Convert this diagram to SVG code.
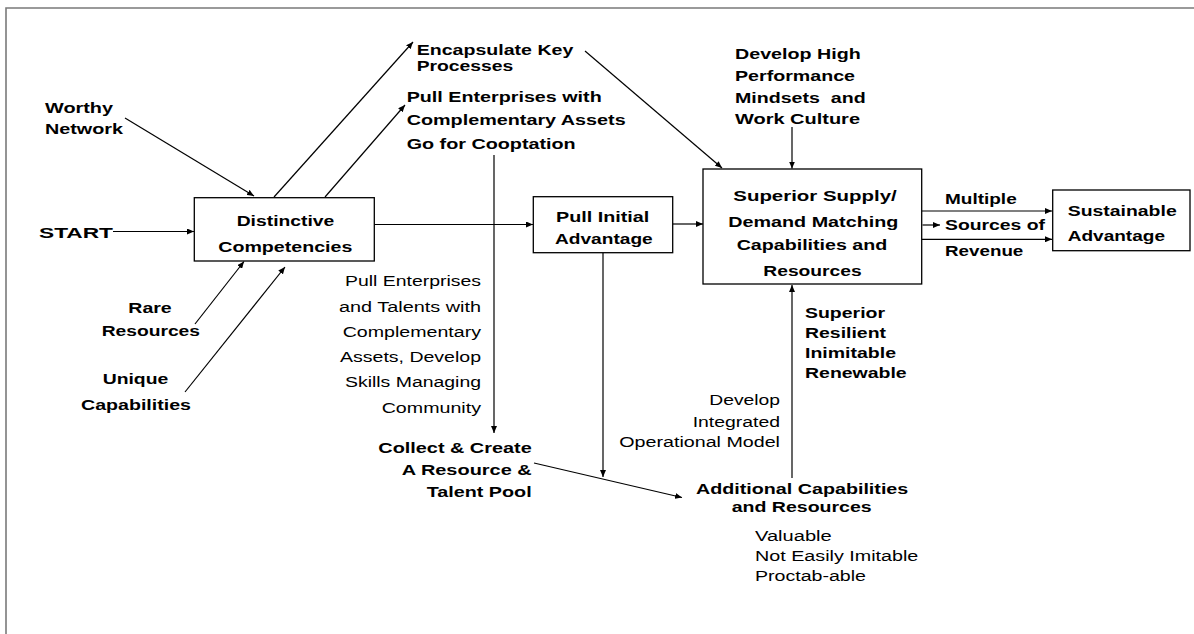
<svg xmlns="http://www.w3.org/2000/svg" width="1194" height="634" viewBox="0 0 1194 634">
<style>
.b{font-family:"Liberation Sans",Arial,sans-serif;font-weight:bold;font-size:15.2px;fill:#000}
.r{font-family:"Liberation Sans",Arial,sans-serif;font-size:14px;fill:#000}
.box{fill:#fff;stroke:#000;stroke-width:1.3}
.c{stroke:#000;stroke-width:1.2;fill:none;marker-end:url(#ah)}
.frame{stroke:#7a7a7a;stroke-width:1.6;fill:none}
</style>
<defs>
<marker id="ah" markerUnits="userSpaceOnUse" markerWidth="8" markerHeight="6" refX="7" refY="3" orient="auto">
<path d="M0,0 L7,3 L0,6 z" fill="#000"/>
</marker>
</defs>
<rect width="1194" height="634" fill="#fff"/>
<path class="frame" d="M6,634 V8 H1194"/>

<g id="connectors">
<line class="c" x1="125" y1="118" x2="254" y2="196"/>
<line class="c" x1="274" y1="197" x2="413" y2="42"/>
<line class="c" x1="325" y1="197" x2="405" y2="105"/>
<line class="c" x1="113" y1="231.5" x2="194" y2="231.5"/>
<line class="c" x1="195" y1="324" x2="244" y2="261.5"/>
<line class="c" x1="185" y1="392" x2="285" y2="267"/>
<line class="c" x1="374" y1="224.5" x2="533" y2="224.5"/>
<line class="c" x1="673" y1="224" x2="703" y2="224"/>
<line class="c" x1="585" y1="51" x2="722" y2="168"/>
<line class="c" x1="792" y1="127" x2="792" y2="168.5"/>
<line class="c" x1="494" y1="155" x2="494" y2="433"/>
<line class="c" x1="603" y1="253" x2="603" y2="477"/>
<line class="c" x1="534" y1="463" x2="682" y2="497.5"/>
<line class="c" x1="792" y1="478" x2="792" y2="285"/>
<line class="c" x1="922" y1="211" x2="1052" y2="211"/>
<line class="c" x1="922.5" y1="225" x2="940" y2="225"/>
<line class="c" x1="922" y1="239.3" x2="1052" y2="239.3"/>
</g>

<g id="worthy-network">
<text class="b" x="45" y="112.5" textLength="68" lengthAdjust="spacingAndGlyphs">Worthy</text>
<text class="b" x="45" y="133.5" textLength="78" lengthAdjust="spacingAndGlyphs">Network</text>
</g>
<g id="start">
<text class="b" x="39" y="237.5" textLength="74" lengthAdjust="spacingAndGlyphs">START</text>
</g>
<g id="distinctive-competencies">
<rect class="box" x="194.3" y="197.7" width="180" height="63.3"/>
<text class="b" x="236.7" y="225.5" textLength="97.6" lengthAdjust="spacingAndGlyphs">Distinctive</text>
<text class="b" x="218.3" y="251.5" textLength="134" lengthAdjust="spacingAndGlyphs">Competencies</text>
</g>
<g id="rare-resources">
<text class="b" x="128.3" y="313" textLength="43.4" lengthAdjust="spacingAndGlyphs">Rare</text>
<text class="b" x="101.7" y="336" textLength="98.3" lengthAdjust="spacingAndGlyphs">Resources</text>
</g>
<g id="unique-capabilities">
<text class="b" x="102.7" y="384" textLength="65.6" lengthAdjust="spacingAndGlyphs">Unique</text>
<text class="b" x="81" y="409.5" textLength="110" lengthAdjust="spacingAndGlyphs">Capabilities</text>
</g>
<g id="encapsulate">
<text class="b" x="416.7" y="54.5" textLength="156.6" lengthAdjust="spacingAndGlyphs">Encapsulate Key</text>
<text class="b" x="416.7" y="70.5" textLength="96.6" lengthAdjust="spacingAndGlyphs">Processes</text>
</g>
<g id="pull-enterprises">
<text class="b" x="406.7" y="102" textLength="195" lengthAdjust="spacingAndGlyphs">Pull Enterprises with</text>
<text class="b" x="406.7" y="124.5" textLength="219" lengthAdjust="spacingAndGlyphs">Complementary Assets</text>
<text class="b" x="406.7" y="148.5" textLength="169" lengthAdjust="spacingAndGlyphs">Go for Cooptation</text>
</g>
<g id="develop-high-performance">
<text class="b" x="735" y="58.5" textLength="125.7" lengthAdjust="spacingAndGlyphs">Develop High</text>
<text class="b" x="735" y="80.5" textLength="120" lengthAdjust="spacingAndGlyphs">Performance</text>
<text class="b" x="735" y="102.5" textLength="130.7" lengthAdjust="spacingAndGlyphs" xml:space="preserve">Mindsets  and</text>
<text class="b" x="735" y="123.5" textLength="125" lengthAdjust="spacingAndGlyphs">Work Culture</text>
</g>
<g id="pull-initial-advantage">
<rect class="box" x="533.3" y="196.7" width="139.4" height="56"/>
<text class="b" x="556" y="222" textLength="93.3" lengthAdjust="spacingAndGlyphs">Pull Initial</text>
<text class="b" x="555" y="243.5" textLength="97.7" lengthAdjust="spacingAndGlyphs">Advantage</text>
</g>
<g id="superior-supply-demand">
<rect class="box" x="703" y="169" width="218.7" height="115"/>
<text class="b" x="733.3" y="201" textLength="163.4" lengthAdjust="spacingAndGlyphs">Superior Supply/</text>
<text class="b" x="728.3" y="227" textLength="170" lengthAdjust="spacingAndGlyphs">Demand Matching</text>
<text class="b" x="736.7" y="250" textLength="150.6" lengthAdjust="spacingAndGlyphs">Capabilities and</text>
<text class="b" x="763.3" y="275.5" textLength="98.4" lengthAdjust="spacingAndGlyphs">Resources</text>
</g>
<g id="multiple-sources">
<text class="b" x="945" y="203.5" textLength="71.7" lengthAdjust="spacingAndGlyphs">Multiple</text>
<text class="b" x="945" y="229.5" textLength="100" lengthAdjust="spacingAndGlyphs">Sources of</text>
<text class="b" x="945" y="256" textLength="78.3" lengthAdjust="spacingAndGlyphs">Revenue</text>
</g>
<g id="sustainable-advantage">
<rect class="box" x="1052.7" y="190" width="137.3" height="60.7"/>
<text class="b" x="1067.7" y="215.5" textLength="109" lengthAdjust="spacingAndGlyphs">Sustainable</text>
<text class="b" x="1067.7" y="241" textLength="97.3" lengthAdjust="spacingAndGlyphs">Advantage</text>
</g>
<g id="superior-resilient">
<text class="b" x="805" y="318" textLength="80" lengthAdjust="spacingAndGlyphs">Superior</text>
<text class="b" x="805" y="338" textLength="81" lengthAdjust="spacingAndGlyphs">Resilient</text>
<text class="b" x="805" y="358" textLength="91" lengthAdjust="spacingAndGlyphs">Inimitable</text>
<text class="b" x="805" y="377.5" textLength="101.7" lengthAdjust="spacingAndGlyphs">Renewable</text>
</g>
<g id="pull-talents-label">
<text class="r" x="345" y="286" textLength="136" lengthAdjust="spacingAndGlyphs">Pull Enterprises</text>
<text class="r" x="339" y="312" textLength="142" lengthAdjust="spacingAndGlyphs">and Talents with</text>
<text class="r" x="342.7" y="337" textLength="138.3" lengthAdjust="spacingAndGlyphs">Complementary</text>
<text class="r" x="340" y="362" textLength="141" lengthAdjust="spacingAndGlyphs">Assets, Develop</text>
<text class="r" x="345" y="387" textLength="136" lengthAdjust="spacingAndGlyphs">Skills Managing</text>
<text class="r" x="381.7" y="413" textLength="99.3" lengthAdjust="spacingAndGlyphs">Community</text>
</g>
<g id="collect-create">
<text class="b" x="378.3" y="453" textLength="153.4" lengthAdjust="spacingAndGlyphs">Collect &amp; Create</text>
<text class="b" x="401.7" y="474.5" textLength="130" lengthAdjust="spacingAndGlyphs">A Resource &amp;</text>
<text class="b" x="426.7" y="497" textLength="105" lengthAdjust="spacingAndGlyphs">Talent Pool</text>
</g>
<g id="operational-model-label">
<text class="r" x="709.3" y="404.5" textLength="70.7" lengthAdjust="spacingAndGlyphs">Develop</text>
<text class="r" x="692.7" y="427" textLength="87.3" lengthAdjust="spacingAndGlyphs">Integrated</text>
<text class="r" x="619.3" y="447" textLength="160.7" lengthAdjust="spacingAndGlyphs">Operational Model</text>
</g>
<g id="additional-capabilities">
<text class="b" x="696" y="493.5" textLength="212.3" lengthAdjust="spacingAndGlyphs">Additional Capabilities</text>
<text class="b" x="731.7" y="512" textLength="140" lengthAdjust="spacingAndGlyphs">and Resources</text>
</g>
<g id="valuable-label">
<text class="r" x="755" y="541" textLength="76.7" lengthAdjust="spacingAndGlyphs">Valuable</text>
<text class="r" x="755" y="561" textLength="163.3" lengthAdjust="spacingAndGlyphs">Not Easily Imitable</text>
<text class="r" x="755" y="580.5" textLength="111" lengthAdjust="spacingAndGlyphs">Proctab-able</text>
</g>
</svg>
